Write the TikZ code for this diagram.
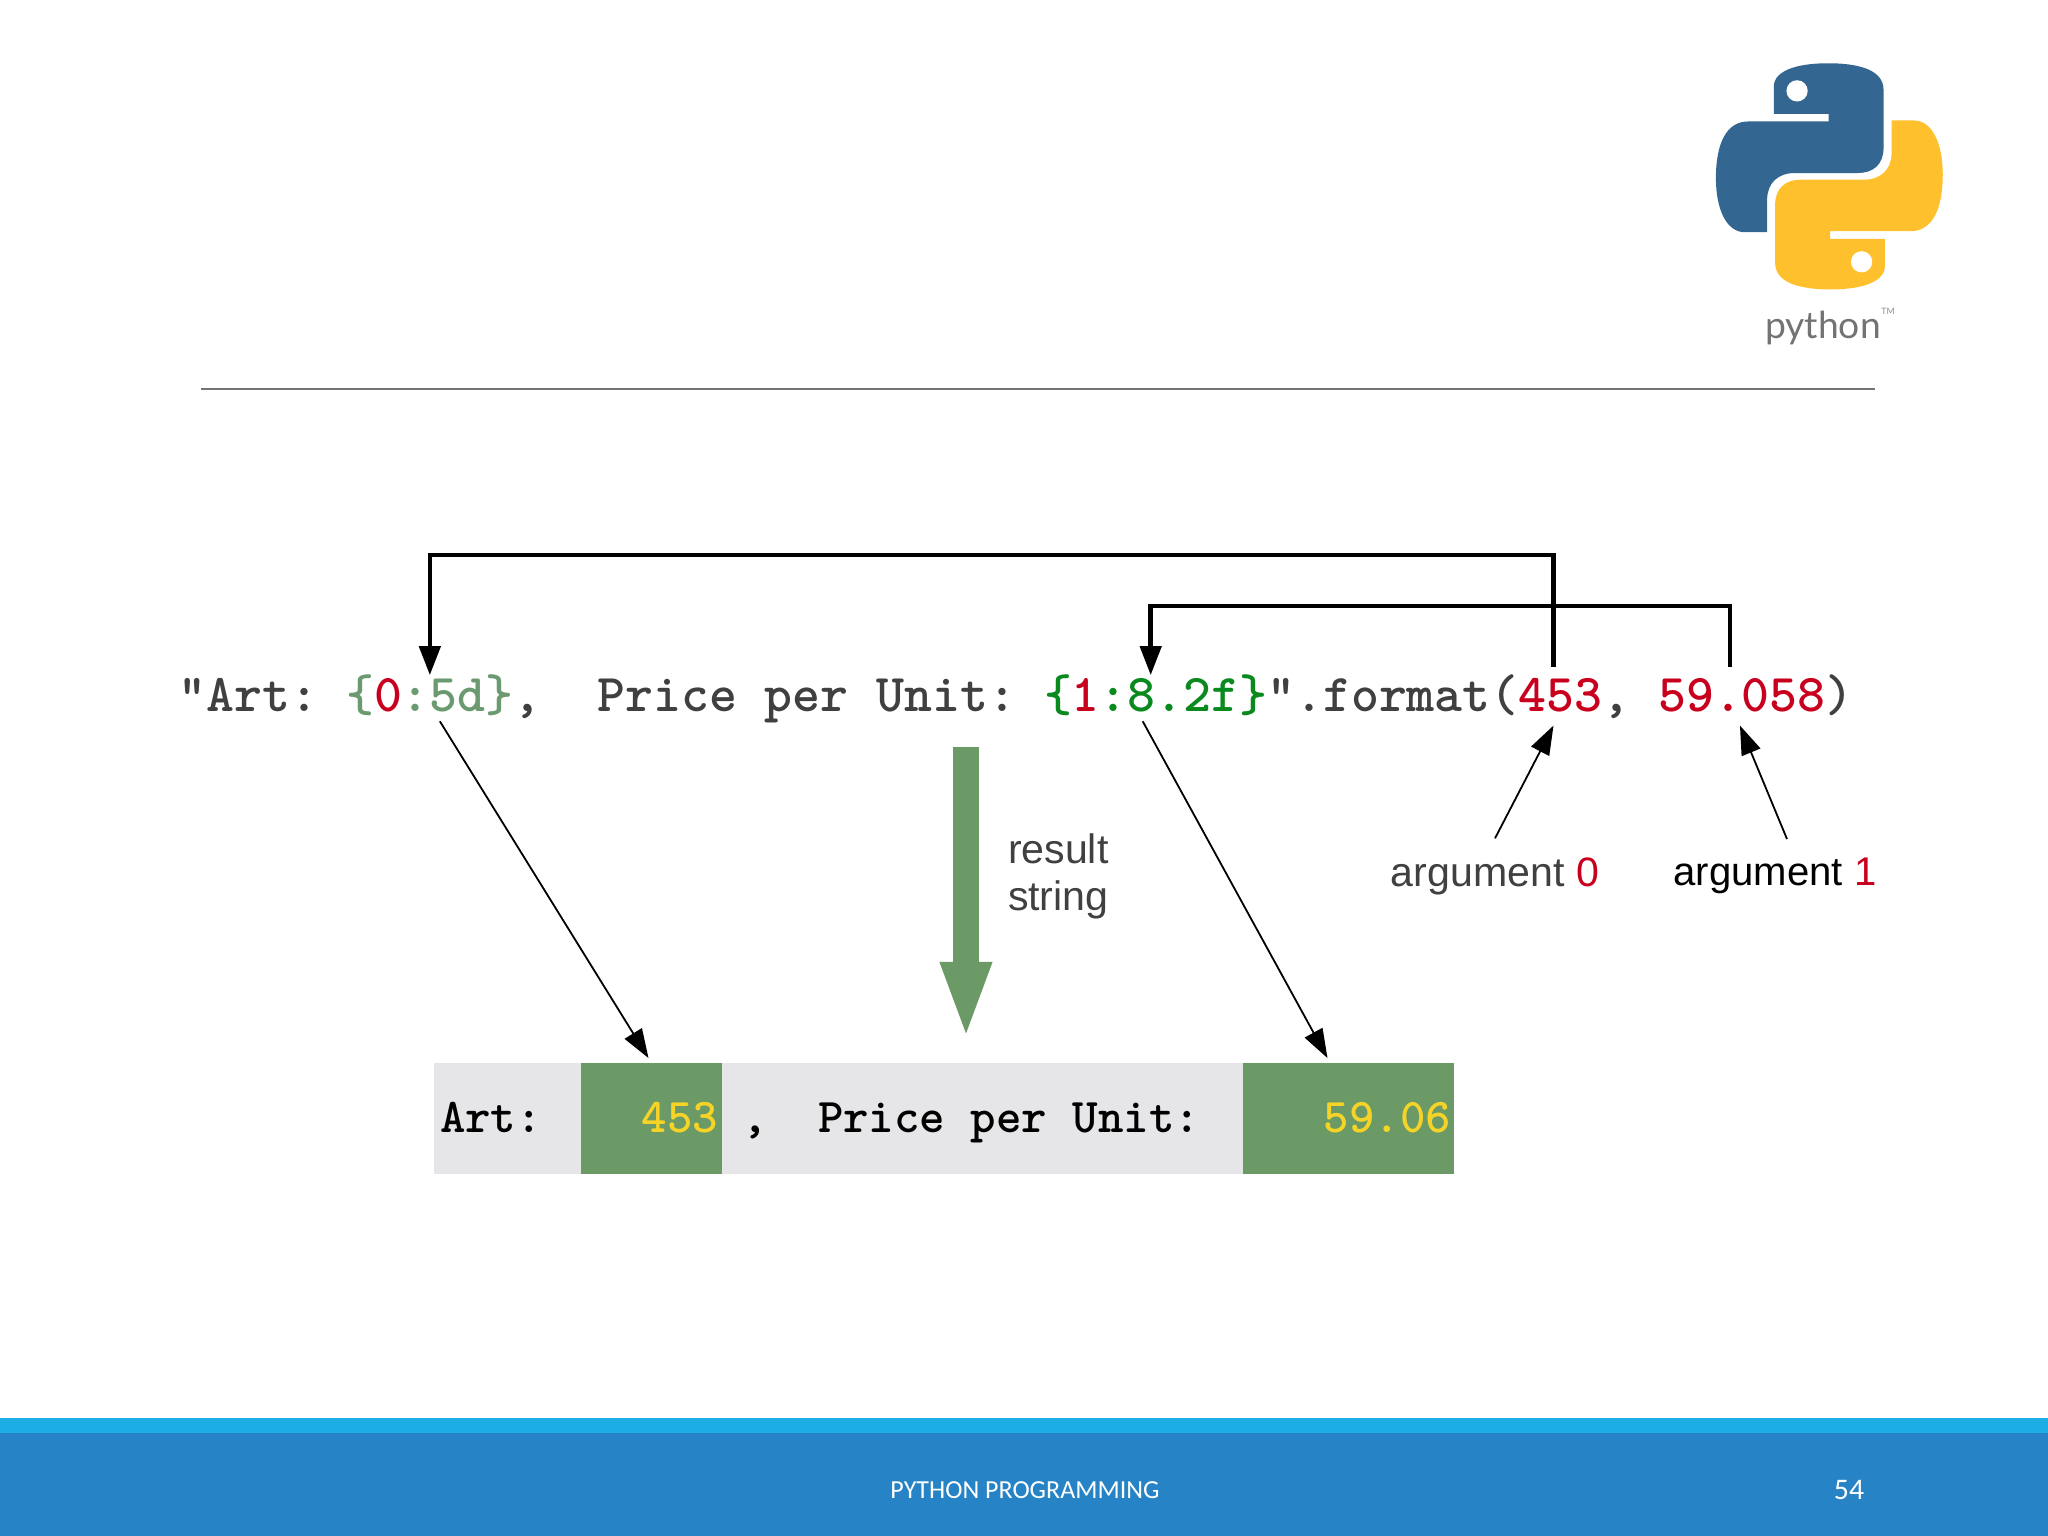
\documentclass[tikz,border=0pt]{standalone}
\usepackage{fontspec}
\setmainfont{Liberation Sans}
\newfontfamily\footfont{Carlito}
\newfontfamily\logofont{Lato}
\usetikzlibrary{arrows.meta}
\definecolor{codegray}{HTML}{404040}
\definecolor{argred}{HTML}{C8001E}
\definecolor{mutedgreen}{HTML}{6B9A70}
\definecolor{fieldgreen}{HTML}{0A8A1E}
\definecolor{cellgreen}{HTML}{6B9A66}
\definecolor{cellgray}{HTML}{E6E6E8}
\definecolor{cellyellow}{HTML}{F5D327}
\definecolor{footlight}{HTML}{1CADE4}
\definecolor{footdark}{HTML}{2683C6}
\definecolor{pyblue}{HTML}{336791}
\definecolor{pyyellow}{HTML}{FFC02E}
\tikzset{
	codetext/.style={anchor=base west, inner sep=0, outer sep=0, text=codegray, font=\fontsize{15.13}{18}\ttfamily\bfseries},
	resulttext/.style={inner sep=0, outer sep=0, font=\fontsize{13.8}{16}\ttfamily\bfseries},
	labeltext/.style={inner sep=0, outer sep=0, font=\fontsize{11.7}{13.4}\selectfont},
	cellbox/.style={inner sep=0, outer sep=0, minimum height=1.11cm, fill=cellgreen},
	wirearrow/.style={line width=0.45mm, -{Triangle[length=0.29cm,width=0.21cm]}},
	thinarrow/.style={line width=0.18mm, -{Triangle[length=0.29cm,width=0.2cm]}}
}
\def\pysnake#1{\fill[#1] (282,222) -- (282,140) .. controls (282,95) and (345,70) .. (445,70) .. controls (550,70) and (612,95) .. (612,150) -- (612,325) .. controls (612,375) and (580,400) .. (535,400) -- (345,400) .. controls (295,400) and (262,430) .. (262,480) -- (262,578) -- (195,578) .. controls (140,578) and (108,510) .. (108,415) .. controls (108,310) and (140,245) .. (205,245) -- (447,245) -- (447,222) -- cycle;
	\fill[white] (352,153) circle (32);}
\begin{document}
\begin{tikzpicture}
	\useasboundingbox (0, 0) rectangle (20.48, 15.36);

	% logo
	\begin{scope}[shift={(16.8, 14.96)}, x=0.003333cm, y=-0.003333cm]
		\pysnake{pyblue}
		\begin{scope}[rotate around={180:(449, 410)}]
			\pysnake{pyyellow}
		\end{scope}
	\end{scope}
	\node[inner sep=0, text=black!55, font=\fontsize{10.6}{12}\logofont] (logoname) at (18.23, 12.08) {python};
	\node[inner sep=0, text=black!45, font=\fontsize{2.5}{3}\logofont] (logomark) at (18.88, 12.25) {TM};

	\draw[black!55, line width=0.2mm] (2.01, 11.47) -- (18.75, 11.47);

	% format string
	\node[codetext] (artpart) at (1.786, 8.24) {"Art:~\null};
	\node[codetext] (fieldzero) at (artpart.base east) {\textcolor{mutedgreen}{\{}\textcolor{argred}{0}\textcolor{mutedgreen}{:5d\}}};
	\node[codetext] (commaone) at (fieldzero.base east) {,~~\null};
	\node[codetext] (pricepart) at (commaone.base east) {Price~per~Unit:~\null};
	\node[codetext] (fieldone) at (pricepart.base east) {\textcolor{fieldgreen}{\{}\textcolor{argred}{1}\textcolor{fieldgreen}{:8.2f\}}};
	\node[codetext] (formatpart) at (fieldone.base east) {".format(};
	\node[codetext, text=argred] (argzero) at (formatpart.base east) {453};
	\node[codetext] (commatwo) at (argzero.base east) {,~\null};
	\node[codetext, text=argred] (argone) at (commatwo.base east) {59.058};
	\node[codetext] (closepart) at (argone.base east) {)};

	\draw[wirearrow] ([xshift=-0.07cm, yshift=0.12cm]argzero.north) -- ++(0, 1.12) -| (fieldzero.north);
	\draw[wirearrow] ([xshift=-0.12cm, yshift=0.12cm]argone.north) -- ++(0, 0.61) -| ([xshift=-0.05cm]fieldone.north);

	% result strip
	\node[cellbox, fill=cellgray, minimum width=10.2cm] (strip) at (9.44, 4.174) {};
	\node[cellbox, minimum width=1.41cm] (cellzero) at (6.515, 4.174) {};
	\node[cellbox, minimum width=2.11cm] (cellone) at (13.485, 4.174) {};
	\node[resulttext, anchor=base west] (artres) at (4.40, 4.03) {Art:};
	\node[resulttext, anchor=base east, text=cellyellow] (zerores) at (7.18, 4.03) {453};
	\node[resulttext, anchor=base] (commares) at (7.55, 4.03) {,};
	\node[resulttext, anchor=base west] (priceres) at (8.18, 4.03) {Price per Unit:};
	\node[resulttext, anchor=base east, text=cellyellow] (oneres) at (14.51, 4.03) {59.06};

	\draw[thinarrow] ([xshift=0.1cm, yshift=-0.05cm]fieldzero.south) -- ([xshift=-0.03cm, yshift=0.05cm]cellzero.north);
	\draw[thinarrow] ([xshift=-0.13cm, yshift=-0.05cm]fieldone.south) -- ([xshift=-0.21cm, yshift=0.05cm]cellone.north);

	% result arrow
	\coordinate (resulttop) at (9.66, 7.89);
	\coordinate (resulttip) at (9.66, 4.96);
	\draw[cellgreen, line width=0.26cm, -{Triangle[length=0.78cm,width=0.46cm]}] (resulttop) -- (resulttip);
	\node[labeltext, anchor=west, align=left, text=codegray] (resultlabel) at (10.08, 6.6) {result\\string};

	% argument labels
	\node[labeltext, text=codegray] (labelzero) at (14.95, 6.6) {argument \textcolor{argred}{0}};
	\node[labeltext, text=black, font=\fontsize{11.4}{13.4}\selectfont] (labelone) at (17.75, 6.6) {argument \textcolor{argred}{1}};
	\draw[thinarrow] ([yshift=0.19cm]labelzero.north) -- ([xshift=-0.07cm, yshift=-0.13cm]argzero.south);
	\draw[thinarrow] ([xshift=0.12cm, yshift=0.19cm]labelone.north) -- ([xshift=-0.02cm, yshift=-0.13cm]argone.south);

	% footer
	\fill[footlight] (0, 0) rectangle (20.48, 1.18);
	\fill[footdark] (0, 0) rectangle (20.48, 1.03);
	\node[inner sep=0, text=white, font=\fontsize{7.4}{9}\footfont] (footname) at (10.25, 0.46) {PYTHON PROGRAMMING};
	\node[inner sep=0, text=white, font=\fontsize{8.5}{10}\footfont] (footpage) at (18.49, 0.46) {54};
\end{tikzpicture}
\end{document}
